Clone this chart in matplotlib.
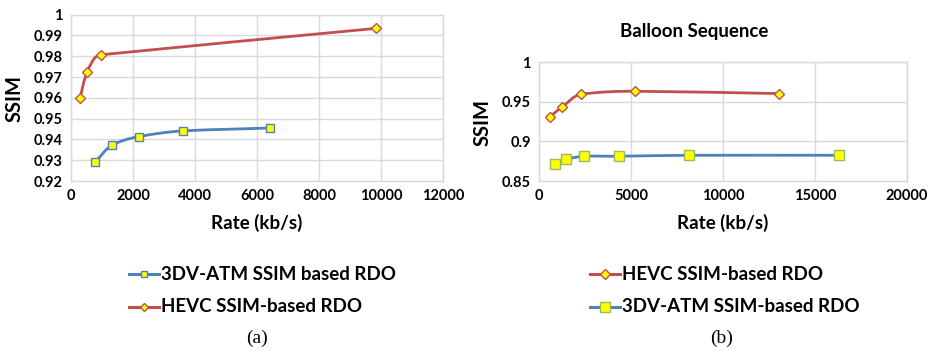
import numpy as np
import matplotlib
matplotlib.use("Agg")
import matplotlib.pyplot as plt
from matplotlib.path import Path
from matplotlib.patches import PathPatch
from matplotlib.lines import Line2D
from matplotlib.ticker import FuncFormatter

plt.rcParams['font.family'] = ['Lato', 'DejaVu Sans']
plt.rcParams['font.weight'] = 'bold'

# (a) left chart
a_hevc_rate = [290, 526, 957, 9828]
a_hevc_ssim = [0.9600, 0.9725, 0.9807, 0.9934]
a_atm_rate = [774, 1323, 2204, 3603, 6419]
a_atm_ssim = [0.9290, 0.9372, 0.9414, 0.9441, 0.9455]

# (b) Balloon sequence
b_hevc_rate = [598, 1235, 2285, 5222, 13054]
b_hevc_ssim = [0.9313, 0.9432, 0.9596, 0.9634, 0.9605]
b_atm_rate = [854, 1469, 2464, 4335, 8159, 16318]
b_atm_ssim = [0.8716, 0.8775, 0.8813, 0.8813, 0.8825, 0.8825]

red = '#C0504D'
blue = '#4F81BD'
yellow = '#FFFF00'
grid_col = '#D9D9D9'


def smooth_path(ax, x, y):
    # smoothed line: bezier segments, tangents taken in screen space,
    # handle length = 1/3 of the neighbouring segment
    fig_w, fig_h = ax.figure.get_size_inches() * ax.figure.dpi
    pos = ax.get_position()
    x0, x1 = ax.get_xlim()
    y0, y1 = ax.get_ylim()
    sx = pos.width * fig_w / (x1 - x0)
    sy = pos.height * fig_h / (y1 - y0)
    p = np.column_stack([np.asarray(x, float) * sx, np.asarray(y, float) * sy])
    n = len(p)
    seg = np.diff(p, axis=0)
    seg_len = np.hypot(seg[:, 0], seg[:, 1])
    t = np.zeros_like(p)
    t[0] = seg[0] / seg_len[0]
    t[-1] = seg[-1] / seg_len[-1]
    for i in range(1, n - 1):
        # longer neighbour segment dominates the tangent direction
        v = seg[i - 1] * seg_len[i - 1] + seg[i] * seg_len[i]
        t[i] = v / np.hypot(*v)
    verts = [p[0]]
    codes = [Path.MOVETO]
    for i in range(n - 1):
        L = seg_len[i] / 3
        verts += [p[i] + t[i] * L, p[i + 1] - t[i + 1] * L, p[i + 1]]
        codes += [Path.CURVE4] * 3
    verts = np.array(verts) / [sx, sy]
    return Path(verts, codes)


def draw_series(ax, x, y, color, marker, ms, mec):
    ax.add_patch(PathPatch(smooth_path(ax, x, y), fill=False, edgecolor=color,
                           lw=2.0, zorder=3, capstyle='round'))
    ax.plot(x, y, ls='none', marker=marker, ms=ms, mfc=yellow, mec=mec,
            mew=1.0, zorder=4)


def style_axes(ax):
    ax.grid(True, color=grid_col, lw=1.0)
    ax.set_axisbelow(True)
    for s in ax.spines.values():
        s.set_color(grid_col)
        s.set_linewidth(1.0)
    ax.tick_params(length=0, labelsize=10.5, pad=6)
    ax.yaxis.set_major_formatter(FuncFormatter(lambda v, _: '{:g}'.format(round(v, 4))))
    for lab in ax.get_xticklabels() + ax.get_yticklabels():
        lab.set_fontweight('bold')


fig = plt.figure(figsize=(9.35, 3.51), dpi=100)

ax1 = fig.add_axes([0.0759, 0.4843, 0.3979, 0.4738])
ax1.set_xlim(0, 12000)
ax1.set_ylim(0.92, 1.0)
ax1.set_xticks(np.arange(0, 12001, 2000))
ax1.set_yticks(np.arange(0.92, 1.0001, 0.01))
draw_series(ax1, a_atm_rate, a_atm_ssim, blue, 's', 5.5, blue)
draw_series(ax1, a_hevc_rate, a_hevc_ssim, red, 'D', 5, red)
style_axes(ax1)

ax2 = fig.add_axes([0.5765, 0.4843, 0.3936, 0.3382])
ax2.set_xlim(0, 20000)
ax2.set_ylim(0.85, 1.0)
ax2.set_xticks(np.arange(0, 20001, 5000))
ax2.set_yticks([0.85, 0.9, 0.95, 1.0])
draw_series(ax2, b_hevc_rate, b_hevc_ssim, red, 'D', 5.5, red)
draw_series(ax2, b_atm_rate, b_atm_ssim, blue, 's', 6.5, '#9BBB59')
style_axes(ax2)

# axis labels and titles
fig.text(15 / 935, 1 - 98 / 351, 'SSIM', rotation=90, ha='center', va='center', fontsize=14.5)
fig.text(483 / 935, 1 - 122 / 351, 'SSIM', rotation=90, ha='center', va='center', fontsize=14.5)
fig.text(257 / 935, 1 - 223 / 351, 'Rate (kb/s)', ha='center', va='center', fontsize=13.5)
fig.text(723 / 935, 1 - 223 / 351, 'Rate (kb/s)', ha='center', va='center', fontsize=13.5)
fig.text(694 / 935, 1 - 32 / 351, 'Balloon Sequence', ha='center', va='center', fontsize=13.5)

# legends
def legend_rows(x0, rows):
    for yc, color, marker, ms, mec, label in rows:
        yf = 1 - yc / 351
        fig.add_artist(Line2D([x0 / 935, (x0 + 30) / 935], [yf, yf], color=color, lw=2.2,
                              transform=fig.transFigure))
        fig.add_artist(Line2D([(x0 + 15) / 935], [yf], ls='none', marker=marker, ms=ms,
                              mfc=yellow, mec=mec, transform=fig.transFigure))
        fig.text((x0 + 32) / 935, yf, label, ha='left', va='center', fontsize=13.5)

legend_rows(129, [(274, blue, 's', 5, blue, '3DV-ATM SSIM based RDO'),
                  (307, red, 'D', 4.5, red, 'HEVC SSIM-based RDO')])
legend_rows(590, [(274, red, 'D', 5, red, 'HEVC SSIM-based RDO'),
                  (307, blue, 's', 6.5, '#9BBB59', '3DV-ATM SSIM-based RDO')])

fig.text(257 / 935, 1 - 338 / 351, '(a)', ha='center', va='center', fontsize=14,
         family='Liberation Serif', fontweight='normal')
fig.text(722 / 935, 1 - 338 / 351, '(b)', ha='center', va='center', fontsize=14,
         family='Liberation Serif', fontweight='normal')

fig.savefig('out.png', dpi=100)
